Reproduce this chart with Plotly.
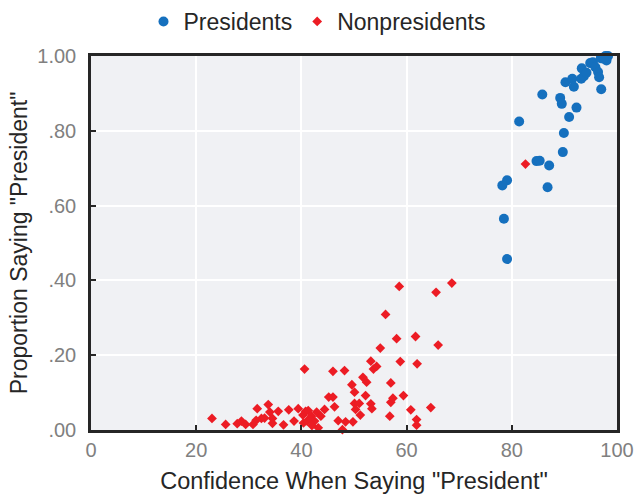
import plotly.graph_objects as go

pres_x = [81.4, 90.9, 89.9, 89.7, 84.7, 85.3, 87.1, 79.1, 78.2, 86.8, 78.5, 79.1,
          85.8, 89.2, 89.5, 92.3, 97.0, 90.2, 91.5, 91.8, 93.2, 93.7, 93.3, 94.2,
          94.9, 95.4, 95.9, 96.4, 96.6, 96.9, 97.8, 98.3, 98.0, 97.4]
pres_y = [.825, .837, .794, .743, .719, .720, .707, .668, .654, .649, .565, .457,
          .897, .888, .872, .862, .911, .930, .939, .918, .939, .946, .967, .955,
          .981, .983, .970, .957, .943, .994, 1.00, 1.00, .988, .993]

non_x = [23.0, 25.6, 27.8, 28.6, 29.4, 30.8, 31.4, 32.4, 33.0, 31.6, 33.7, 34.0, 34.5, 34.5,
         35.6, 36.6, 37.6, 38.6, 39.4, 40.6, 40.3, 40.8, 41.3, 40.4, 41.1, 41.9, 42.5, 42.9,
         43.2, 43.7, 44.4, 45.2, 46.0, 46.3, 46.0, 47.0, 47.8, 48.2, 48.4, 49.8, 49.6, 50.1,
         50.1, 50.3, 51.0, 51.2, 51.7, 52.4, 52.2, 53.2, 53.4, 53.2, 53.7, 54.3, 55.0, 56.0,
         56.8, 57.0, 57.0, 57.4, 58.1, 58.6, 58.8, 59.4, 60.8, 61.7, 62.0, 61.9, 61.9, 64.6,
         65.6, 66.0, 68.6, 82.6, 41.6, 42.0]
non_y = [.031, .015, .017, .024, .015, .015, .026, .031, .032, .057, .068, .048, .031, .018,
         .050, .014, .054, .024, .057, .163, .040, .050, .052, .019, .024, .037, .024, .048,
         .006, .037, .055, .088, .088, .062, .157, .025, .001, .159, .022, .022, .121, .101,
         .071, .055, .071, .040, .141, .128, .092, .070, .057, .184, .163, .170, .219, .309,
         .037, .126, .074, .085, .244, .384, .183, .092, .054, .250, .177, .028, .013, .060,
         .368, .227, .393, .711, .030, .012]

y_ticks = [0, 0.2, 0.4, 0.6, 0.8, 1.0]
y_tick_labels = [".00", ".20", ".40", ".60", ".80", "1.00"]
x_ticks = [0, 20, 40, 60, 80, 100]

FONT = "Liberation Sans"

fig = go.Figure()
fig.add_trace(go.Scatter(
    x=pres_x, y=pres_y, mode="markers", name="Presidents",
    marker=dict(symbol="circle", size=10, color="#1570BE"),
    cliponaxis=False))
fig.add_trace(go.Scatter(
    x=non_x, y=non_y, mode="markers", name="Nonpresidents",
    marker=dict(symbol="diamond", size=7.5, color="#EC1C24"),
    cliponaxis=False))

fig.update_layout(
    width=634, height=496,
    margin=dict(l=91, r=17, t=55.5, b=65.5, autoexpand=False),
    paper_bgcolor="white",
    plot_bgcolor="#F0F1F4",
    font=dict(family=FONT, color="#262626"),
    showlegend=True,
    legend=dict(orientation="h", x=0.5, xanchor="center", xref="container",
                y=1.0, yanchor="top", yref="container",
                font=dict(size=23, color="#262626", family=FONT),
                itemsizing="trace", bgcolor="rgba(0,0,0,0)"),
    xaxis=dict(
        range=[0, 100], tickvals=x_ticks, showgrid=True, gridcolor="white", gridwidth=2,
        zeroline=False, showline=True, linecolor="#262626", linewidth=2.5, mirror=True,
        ticks="inside", ticklen=5, tickwidth=2, tickcolor="#262626",
        tickfont=dict(size=20, color="#808080", family=FONT),
        title=dict(text='Confidence When Saying "President"', font=dict(size=23.5, color="#262626"),
                   standoff=13),
        automargin=False),
    yaxis=dict(
        range=[0, 1.0], tickvals=y_ticks, ticktext=y_tick_labels, showgrid=True,
        gridcolor="white", gridwidth=2, zeroline=False, showline=True,
        linecolor="#262626", linewidth=2.5, mirror=True,
        ticks="inside", ticklen=5, tickwidth=2, tickcolor="#262626",
        tickfont=dict(size=20, color="#808080", family=FONT),
        ticklabelstandoff=8,
        title=dict(text='Proportion Saying "President"', font=dict(size=23, color="#262626"),
                   standoff=4),
        automargin=False),
)

fig.write_html("out.html", config={"displayModeBar": False},
               post_script="document.body.style.margin='0';document.body.style.overflow='hidden';")
